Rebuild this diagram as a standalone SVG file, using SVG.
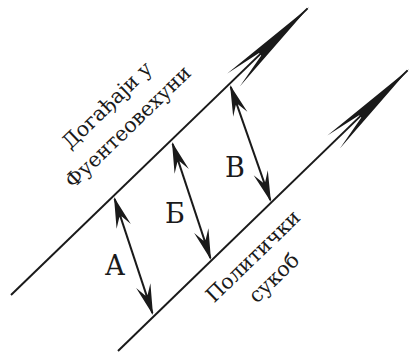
<svg xmlns="http://www.w3.org/2000/svg" width="410" height="354" viewBox="0 0 410 354">
<defs>
<style>
.ln{fill:none;stroke:#1a1a1a;stroke-width:2}
.lbl{font-family:"DejaVu Serif","Liberation Serif",serif;font-size:27px;fill:#1a1a1a;text-anchor:middle}
.rot{font-family:"DejaVu Serif","Liberation Serif",serif;font-size:20.5px;fill:#1a1a1a;text-anchor:middle}
</style>
<marker id="big" markerUnits="userSpaceOnUse" orient="auto" overflow="visible" markerWidth="1" markerHeight="1" refX="0" refY="0">
<path d="M2,0 L-103,-9 L-66,-1.6 L-66,1.6 L-103,9 Z" fill="#1a1a1a"/>
</marker>
<marker id="sm" markerUnits="userSpaceOnUse" orient="auto-start-reverse" overflow="visible" markerWidth="1" markerHeight="1" refX="0" refY="0">
<path d="M2,0 L-29,-7.5 L-19,-1.3 L-19,1.3 L-29,7.5 Z" fill="#1a1a1a"/>
</marker>
</defs>
<rect width="410" height="354" fill="#fff"/>
<g id="connectors">
<path class="ln" d="M11,295 L307.6,8.4" marker-end="url(#big)"/>
<path class="ln" d="M118,351 L407.6,70.4" marker-end="url(#big)"/>
<path class="ln" d="M114.6,198.9 L152.4,313.1" marker-start="url(#sm)" marker-end="url(#sm)"/>
<path class="ln" d="M172.6,143.9 L210.4,258.1" marker-start="url(#sm)" marker-end="url(#sm)"/>
<path class="ln" d="M230.7,86.9 L270.3,200.1" marker-start="url(#sm)" marker-end="url(#sm)"/>
</g>
<g id="node-top">
<text class="rot" transform="rotate(-44)"><tspan x="4" y="157">Догађаји у</tspan><tspan x="4" y="187">Фуентеовехуни</tspan></text>
</g>
<g id="node-bottom">
<text class="rot" transform="rotate(-44)"><tspan x="4" y="367">Политички</tspan><tspan x="4" y="397">сукоб</tspan></text>
</g>
<g id="label-a"><text class="lbl" x="115" y="275">А</text></g>
<g id="label-b"><text class="lbl" x="175" y="223">Б</text></g>
<g id="label-v"><text class="lbl" x="235" y="177">В</text></g>
</svg>
